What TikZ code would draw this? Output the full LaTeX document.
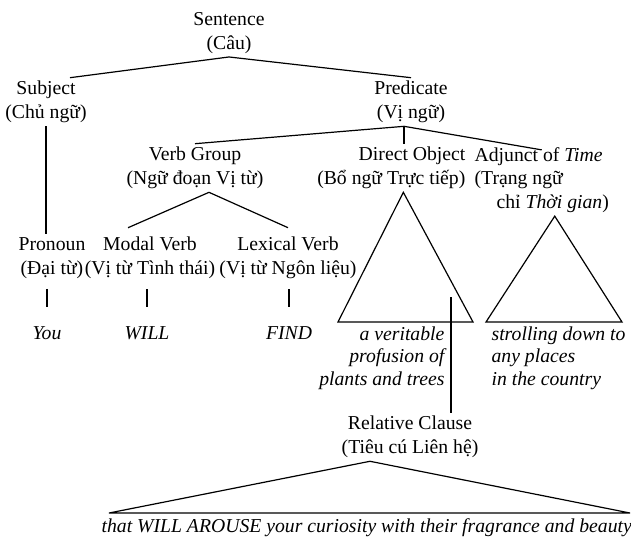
\documentclass[tikz,border=0pt]{standalone}
\usepackage{fontspec}
\setmainfont{Liberation Serif}

\begin{document}
\begin{tikzpicture}[x=1pt, y=-1pt, line width=1.2pt,
		font=\fontsize{19.7pt}{23.5pt}\selectfont,
		cat/.style={align=center, inner sep=3pt},
		leaf/.style={font=\fontsize{19.7pt}{22.5pt}\selectfont\itshape, inner sep=2pt},
		stem/.style={shorten <=7pt, shorten >=17pt}
		]
		\useasboundingbox (0,0) rectangle (631,539);
		\node [cat] (sent) at (229,33) {Sentence\\(Câu)};
		\node [cat] (subj) at (46,102) {Subject\\(Chủ ngữ)};
		\node [cat] (pred) at (411,102) {Predicate\\(Vị ngữ)};
		\node [cat] (vg) at (195,168) {Verb Group\\(Ngữ đoạn Vị từ)};
		\node [cat, align=right, anchor=east] (do) at (469,168) {Direct Object\\(Bổ ngữ Trực tiếp)};
		\node [cat, align=left, anchor=west] (adj) at (471,180)
		{Adjunct of \textit{Time}\\(Trạng ngữ\\\hspace*{22pt}chỉ \textit{Thời gian})};
		\node [cat] (pron) at (52,258) {Pronoun\\(Đại từ)};
		\node [cat] (modal) at (150,258) {Modal Verb\\(Vị từ Tình thái)};
		\node [cat] (lex) at (288,258) {Lexical Verb\\(Vị từ Ngôn liệu)};
		\node [leaf] (you) at (47,333) {You};
		\node [leaf] (will) at (147,333) {WILL};
		\node [leaf] (find) at (289,333) {FIND};
		\node [leaf, align=right, anchor=east] (dotext) at (447,358)
		{a veritable\\profusion of\\plants and trees};
		\node [leaf, align=left, anchor=west] (adjtext) at (489,358)
		{strolling down to\\any places\\in the country};
		\node [cat] (rc) at (410,437) {Relative Clause\\(Tiêu cú Liên hệ)};
		\node [leaf, anchor=west] (rctext) at (99,528)
		{that WILL AROUSE your curiosity with their fragrance and beauty};
		\coordinate (dol) at (338,322);
		\coordinate (dor) at (473,322);
		\coordinate (adjl) at (486,322);
		\coordinate (adjr) at (622,322);
		\coordinate (dofoot) at (451,297);
		\coordinate (rcl) at (109,513);
		\coordinate (rcr) at (630,513);
		\draw (sent.south) -- ([xshift=24pt]subj.north);
		\draw (sent.south) -- (pred.north);
		\draw (subj.south) -- (subj.south |- pron.north);
		\draw ([xshift=-7pt]pred.south) -- (vg.north);
		\draw ([xshift=-7pt]pred.south) -- ([xshift=-7pt]pred.south |- do.north);
		\draw ([xshift=-7pt]pred.south) -- ([yshift=-6pt]adj.north);
		\draw ([xshift=14pt]vg.south) -- ([xshift=-22pt, yshift=6pt]modal.north);
		\draw ([xshift=14pt]vg.south) -- ([yshift=6pt]lex.north);
		\draw [stem] (pron.south -| you) -- (you.north);
		\draw [stem] (modal.south -| will) -- (will.north);
		\draw [stem] (lex.south -| find) -- (find.north);
		\draw ([xshift=12pt]do.south) -- (dol) -- (dor) -- cycle;
		\draw ([xshift=13pt]adj.south) -- (adjl) -- (adjr) -- cycle;
		\draw (dofoot) -- (dofoot |- rc.north);
		\draw ([xshift=-40pt]rc.south) -- (rcl) -- (rcr) -- cycle;
	\end{tikzpicture}
\end{document}
